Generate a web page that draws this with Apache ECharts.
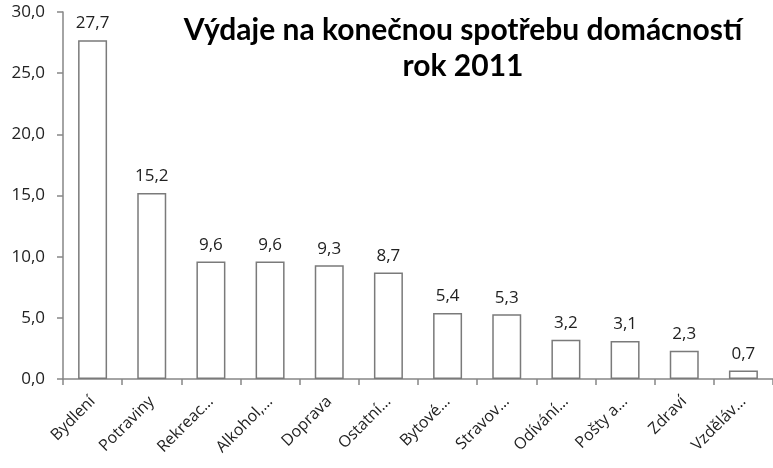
<!DOCTYPE html>
<html>
<head>
<meta charset="utf-8">
<script src="https://cdn.jsdelivr.net/npm/echarts@6/dist/echarts.min.js"></script>
<style>
  html, body { margin: 0; padding: 0; background: #fff; }
  #chart { width: 773px; height: 468px; }
</style>
</head>
<body>
<div id="chart"></div>
<script>
  // categories as shown (truncated) on the axis
  const categories = ['Bydlení', 'Potraviny', 'Rekreac…', 'Alkohol,…', 'Doprava', 'Ostatní…',
    'Bytové…', 'Stravov…', 'Odívání…', 'Pošty a…', 'Zdraví', 'Vzděláv…']
  const shares = [27.7, 15.2, 9.6, 9.6, 9.3, 8.7, 5.4, 5.3, 3.2, 3.1, 2.3, 0.7]
  const titleLines = ['Výdaje na konečnou spotřebu domácností', 'rok 2011']

  const comma = v => Number(v).toFixed(1).replace('.', ',')

  const chart = echarts.init(document.getElementById('chart'))
  chart.setOption({
    animation: false,
    title: {
      text: titleLines.join('\n'),
      left: 458,
      top: 7,
      textAlign: 'center',
      textStyle: {
        fontFamily: 'Lato',
        fontWeight: 'bold',
        fontSize: 30,
        lineHeight: 36,
        color: '#000'
      }
    },
    grid: {
      left: 63,
      right: -3,
      top: 12,
      bottom: 89,
      containLabel: false
    },
    xAxis: {
      type: 'category',
      data: categories,
      axisLine: { lineStyle: { color: '#868686', width: 1.5 } },
      axisTick: { show: true, length: 6, lineStyle: { color: '#868686', width: 1.5 } },
      axisLabel: {
        rotate: 45,
        interval: 0,
        margin: 20,
        fontFamily: 'Open Sans',
        fontSize: 16,
        color: '#222'
      }
    },
    yAxis: {
      type: 'value',
      min: 0,
      max: 30,
      interval: 5,
      splitLine: { show: false },
      axisLine: { show: true, lineStyle: { color: '#868686', width: 1.5 } },
      axisTick: { show: true, length: 6, lineStyle: { color: '#868686', width: 1.5 } },
      axisLabel: {
        formatter: comma,
        margin: 18,
        fontFamily: 'Open Sans',
        fontSize: 17,
        color: '#222'
      }
    },
    series: [
      {
        type: 'bar',
        data: shares,
        barWidth: '49%',
        itemStyle: {
          color: '#fff',
          borderColor: '#7a7a7a',
          borderWidth: 1.5
        },
        label: {
          show: true,
          position: 'top',
          distance: 8,
          formatter: p => comma(p.value),
          fontFamily: 'Open Sans',
          fontSize: 17,
          color: '#222'
        }
      }
    ]
  })
</script>
</body>
</html>
